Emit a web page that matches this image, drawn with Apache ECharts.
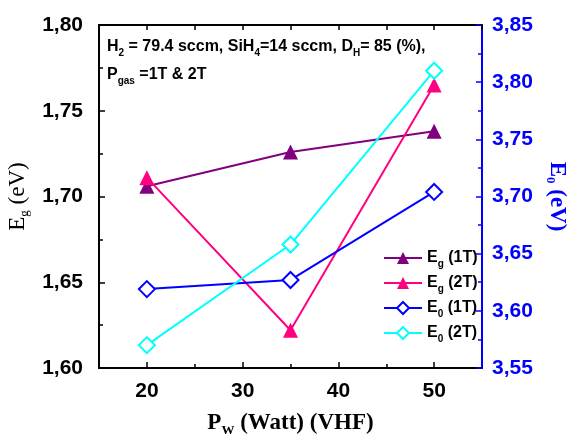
<!DOCTYPE html>
<html>
<head>
<meta charset="utf-8">
<script src="https://cdn.jsdelivr.net/npm/echarts@6/dist/echarts.min.js"></script>
<style>html,body{margin:0;padding:0;background:#fff}#c{width:570px;height:443px}</style>
</head>
<body>
<div id="c"></div>
<script>
const power = [20, 35, 50];
const eg1T = [1.706, 1.726, 1.738];
const eg2T = [1.711, 1.622, 1.765];
const e01T = [3.619, 3.627, 3.704];
const e02T = [3.570, 3.658, 3.810];
const xMajorTicks = [20, 30, 40, 50];
const xMinorTicks = [25, 35, 45];

const chart = echarts.init(document.getElementById('c'));
const comma = v => v.toFixed(2).replace('.', ',');
const tickFont = {fontFamily: '"Liberation Sans", Arial, sans-serif', fontWeight: 'bold', fontSize: 21};
const legRich = {
  a: {fontFamily: '"Liberation Sans", Arial, sans-serif', fontWeight: 'bold', fontSize: 16, color: '#000'},
  s: {fontFamily: '"Liberation Sans", Arial, sans-serif', fontWeight: 'bold', fontSize: 10, color: '#000', padding: [12, 0, 0, 0]}
};
function pairs(ys) { return power.map((x, i) => [x, ys[i]]); }

chart.setOption({
  animation: false,
  grid: {left: 99, right: 88, top: 25, bottom: 75, containLabel: false, outerBoundsMode: 'none'},
  legend: {
    orient: 'vertical', left: 378, top: 245, itemWidth: 38, itemHeight: 15, itemGap: 6,
    formatter: function (n) {
      const m = n.match(/^(E)(g|0) (.*)$/);
      return '{a|' + m[1] + '}{s|' + m[2] + '}{a| ' + m[3] + '}';
    },
    textStyle: {rich: legRich},
    data: ['Eg (1T)', 'Eg (2T)', 'E0 (1T)', 'E0 (2T)']
  },
  xAxis: [{
    type: 'value', min: 15, max: 55, interval: 5, position: 'bottom',
    axisLine: {show: true, lineStyle: {color: '#000', width: 2}},
    axisTick: {show: true, inside: true, length: 6, customValues: xMajorTicks, lineStyle: {color: '#000', width: 1.5}},
    axisLabel: {customValues: xMajorTicks, margin: 13, color: '#000', ...tickFont},
    splitLine: {show: false},
    name: '{r|P}{s|W}{r| (Watt) (VHF)}', nameLocation: 'middle', nameGap: 42,
    nameTextStyle: {rich: {
      r: {fontFamily: '"Liberation Serif", "Times New Roman", serif', fontWeight: 'bold', fontSize: 23, color: '#000'},
      s: {fontFamily: '"Liberation Serif", "Times New Roman", serif', fontWeight: 'bold', fontSize: 13, color: '#000', padding: [14, 0, 0, 0]}
    }}
  }, {
    type: 'value', min: 15, max: 55, interval: 5, position: 'bottom', gridIndex: 0,
    axisLine: {show: false},
    axisTick: {show: true, inside: true, length: 4, customValues: xMinorTicks, lineStyle: {color: '#000', width: 1.5}},
    axisLabel: {show: false}, splitLine: {show: false}
  }, {
    type: 'value', min: 15, max: 55, interval: 5, position: 'top',
    axisLine: {show: true, lineStyle: {color: '#000', width: 2}},
    axisTick: {show: true, inside: true, length: 5, lineStyle: {color: '#000', width: 1.5}},
    axisLabel: {show: false}, splitLine: {show: false}
  }],
  yAxis: [{
    type: 'value', min: 1.6, max: 1.8, interval: 0.05, position: 'left',
    axisLine: {show: true, lineStyle: {color: '#000', width: 2}},
    axisTick: {show: true, inside: true, length: 6, lineStyle: {color: '#000', width: 1.5}},
    minorTick: {show: true, splitNumber: 2, length: 4, lineStyle: {color: '#000', width: 1.5}},
    axisLabel: {formatter: comma, margin: 16, color: '#000', ...tickFont},
    splitLine: {show: false},
    name: '{r|E}{s|g}{r| (eV)}', nameLocation: 'middle', nameGap: 68,
    nameTextStyle: {rich: {
      r: {fontFamily: '"Liberation Serif", "Times New Roman", serif', fontSize: 23, color: '#000'},
      s: {fontFamily: '"Liberation Serif", "Times New Roman", serif', fontSize: 13, color: '#000', padding: [14, 0, 0, 0]}
    }}
  }, {
    type: 'value', min: 3.55, max: 3.85, interval: 0.05, position: 'right',
    axisLine: {show: true, lineStyle: {color: '#0000ff', width: 2}},
    axisTick: {show: true, inside: true, length: 6, lineStyle: {color: '#0000ff', width: 1.5}},
    minorTick: {show: true, splitNumber: 2, length: 4, lineStyle: {color: '#0000ff', width: 1.5}},
    axisLabel: {formatter: comma, margin: 10, color: '#0000ff', ...tickFont},
    splitLine: {show: false},
    name: '{r|E}{s|0}{r| (eV)}', nameLocation: 'middle', nameGap: 58, nameRotate: -90,
    nameTextStyle: {rich: {
      r: {fontFamily: '"Liberation Serif", "Times New Roman", serif', fontWeight: 'bold', fontSize: 23, color: '#0000ff'},
      s: {fontFamily: '"Liberation Serif", "Times New Roman", serif', fontWeight: 'bold', fontSize: 13, color: '#0000ff', padding: [14, 0, 0, 0]}
    }}
  }],
  graphic: [{
    type: 'text', left: 107, top: 35,
    style: {
      text: '{a|H}{s|2}{a| = 79.4 sccm, SiH}{s|4}{a|=14 sccm, D}{s|H}{a|= 85 (%),}\n{a|P}{s|gas}{a| =1T & 2T}',
      rich: {
        a: {fontFamily: '"Liberation Sans", Arial, sans-serif', fontWeight: 'bold', fontSize: 16, fill: '#000', lineHeight: 28},
        s: {fontFamily: '"Liberation Sans", Arial, sans-serif', fontWeight: 'bold', fontSize: 10, fill: '#000', padding: [13, 0, 0, 0], lineHeight: 28}
      }
    }
  }],
  series: [{
    name: 'Eg (1T)', type: 'line', xAxisIndex: 0, yAxisIndex: 0, data: pairs(eg1T),
    symbol: 'triangle', symbolSize: 15, z: 3,
    lineStyle: {color: '#800080', width: 2}, itemStyle: {color: '#800080'}
  }, {
    name: 'Eg (2T)', type: 'line', xAxisIndex: 0, yAxisIndex: 0, data: pairs(eg2T),
    symbol: 'triangle', symbolSize: 15, z: 4,
    lineStyle: {color: '#ff0080', width: 2}, itemStyle: {color: '#ff0080'}
  }, {
    name: 'E0 (1T)', type: 'line', xAxisIndex: 0, yAxisIndex: 1, data: pairs(e01T),
    symbol: 'diamond', symbolSize: 16, z: 5,
    lineStyle: {color: '#0000ff', width: 2}, itemStyle: {color: '#ffffff', borderColor: '#0000ff', borderWidth: 2}
  }, {
    name: 'E0 (2T)', type: 'line', xAxisIndex: 0, yAxisIndex: 1, data: pairs(e02T),
    symbol: 'diamond', symbolSize: 16, z: 6,
    lineStyle: {color: '#00ffff', width: 2}, itemStyle: {color: '#ffffff', borderColor: '#00ffff', borderWidth: 2}
  }]
});
</script>
</body>
</html>
